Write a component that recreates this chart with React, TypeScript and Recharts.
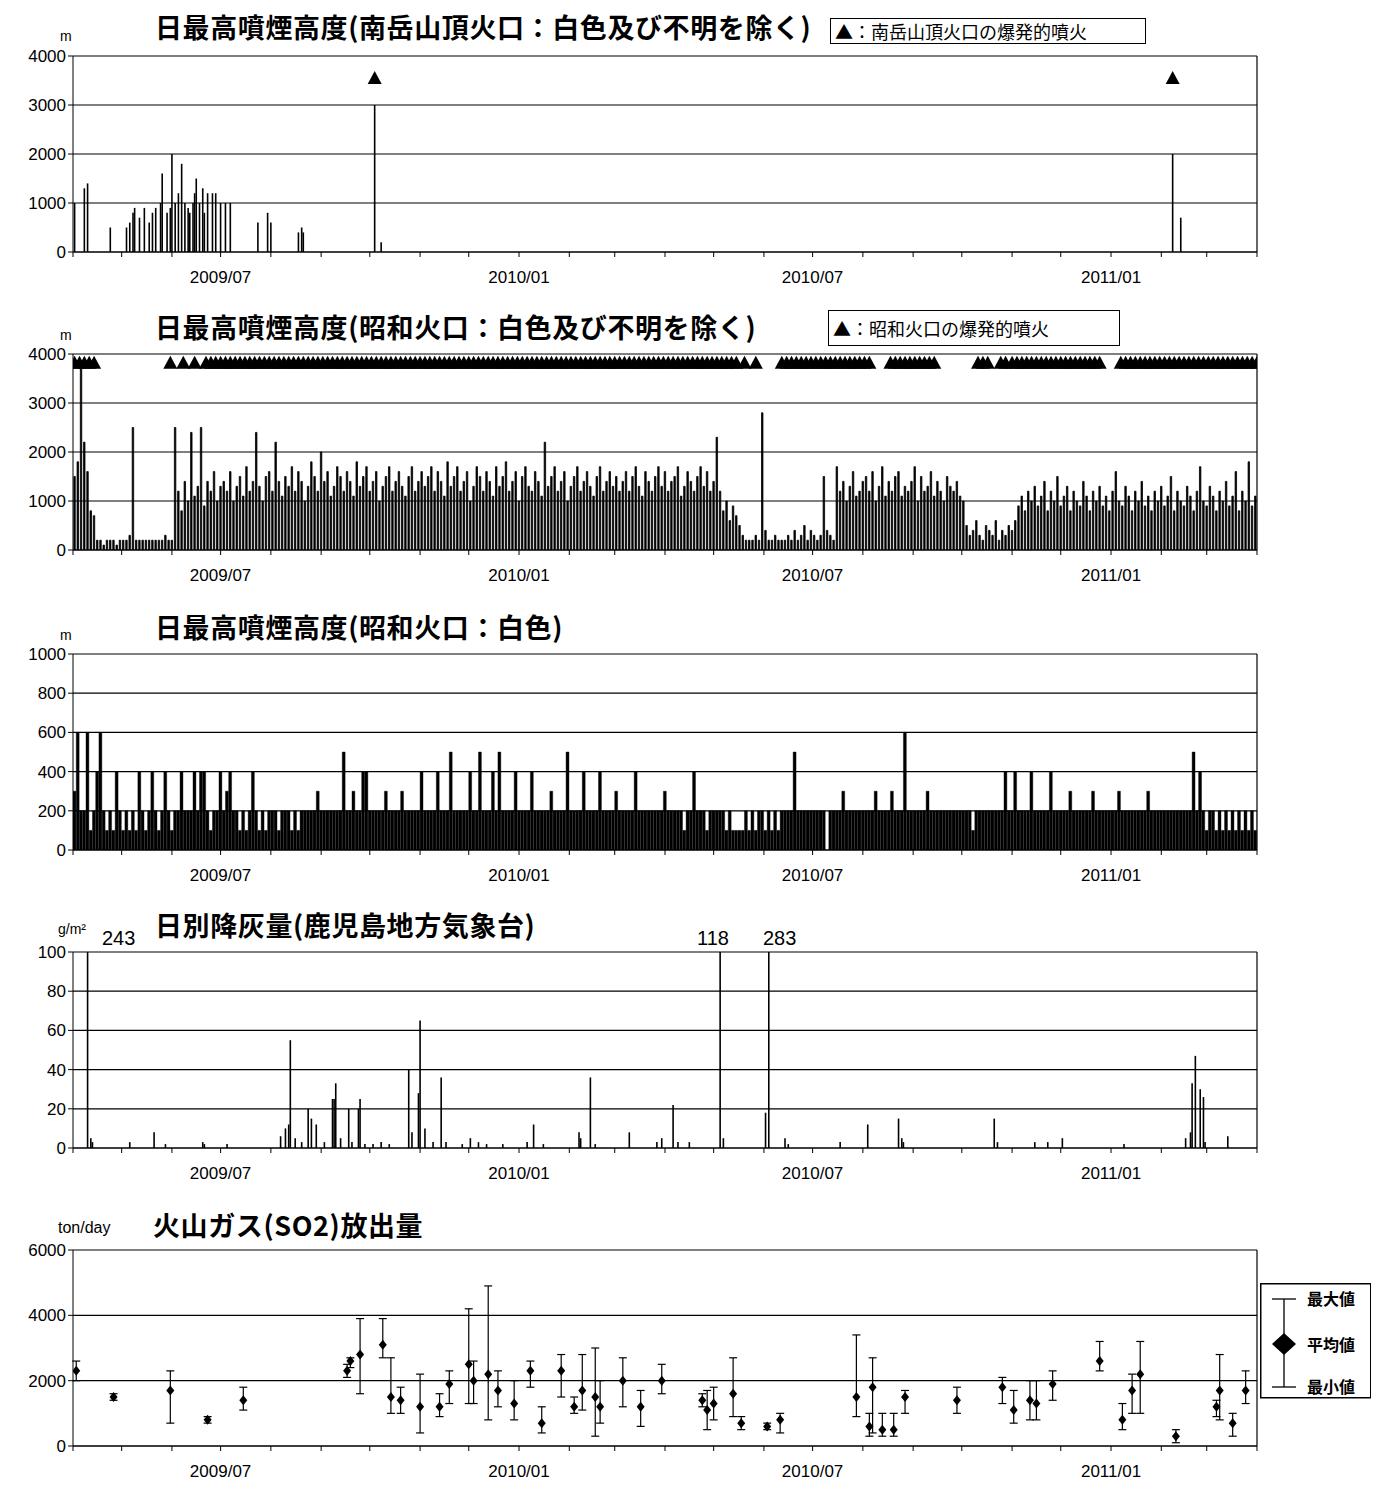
import React from "react";
import {
  Bar,
  CartesianGrid,
  ComposedChart,
  ErrorBar,
  ReferenceLine,
  Scatter,
  XAxis,
  YAxis,
} from "recharts";

// day index 0 = 2009/04/01, 730 = 2011/04/01
const TOTAL_DAYS = 730;
const tickLabels: Record<number, string> = { 3: "2009/07", 9: "2010/01", 15: "2010/07", 21: "2011/01" };

// 南岳 daily max height (day, m)
const minamidakeDays = [1, 7, 9, 23, 33, 35, 37, 38, 41, 44, 47, 49, 51, 54, 55, 58, 60, 61, 63, 65, 67, 69, 71, 72, 74, 75, 76, 78, 80, 81, 83, 86, 88, 91, 94, 97, 114, 120, 122, 139, 141, 142, 186, 190, 678, 683];
const minamidakeHeights = [1000, 1300, 1400, 500, 500, 600, 800, 900, 700, 900, 600, 800, 900, 1000, 1600, 800, 900, 2000, 1000, 1200, 1800, 1000, 900, 800, 1000, 1200, 1500, 1000, 1300, 800, 1200, 1200, 1200, 1000, 1000, 1000, 600, 800, 600, 400, 500, 400, 3000, 200, 2000, 700];
const minamidakeExplosions = [186, 678];

// 昭和 (coloured) max height per 2-day bin, in 100 m
const showaHeights = [
  15, 18, 37, 22, 16, 8, 7, 2, 2,
  1, 2, 2, 2, 1, 2, 2, 2, 3, 25, 2, 2, 2, 2, 2, 2, 2, 2, 2, 3, 2, 2,
  25, 12, 8, 14, 10, 24, 11, 13, 25, 9, 14, 12, 16, 10, 13,
  14, 12, 16, 10, 13, 15, 11, 17, 12, 14, 24, 13, 10, 15, 16, 12, 22, 14, 11, 15, 13, 17, 12, 16, 14, 10, 13, 18, 15, 12, 20, 14, 16, 11, 13, 17, 15, 12, 16, 14, 11, 18, 13, 15, 17, 12, 14, 16, 10, 13, 15, 17, 12, 14, 16, 13, 11, 15, 17, 12, 14, 16,
  13, 15, 17, 12, 16, 14, 11, 18, 13, 15, 17, 12, 14, 16, 10, 13, 17, 15, 12, 16, 14, 11, 17, 13, 15, 18, 12, 14, 16, 10, 15, 17, 13, 12, 16, 14, 11, 22, 13, 15, 17, 12, 14, 16, 10, 13, 15, 17, 12, 14, 16, 13, 11, 15, 17, 12, 14, 16, 13, 15, 12,
  14, 16, 12, 15, 17, 13, 11, 16, 14, 12, 15, 17, 13, 16, 12, 14, 15, 17, 11, 13, 16, 14, 12, 15, 17, 13, 16, 12, 14, 23, 12,
  8, 10, 6, 9, 7, 5, 3, 2, 2, 2, 3, 2, 28, 4, 2, 2, 3, 2, 2,
  2, 3, 2, 4, 2, 3, 5, 2, 4, 3, 2, 3, 15, 4, 3, 2, 17, 12, 14, 10, 13, 16, 11, 12, 14,
  15, 12, 16, 10, 13, 17, 11, 14, 12, 15, 16, 11, 13, 12, 14, 17, 10, 15, 12, 13, 16, 11, 14, 12, 10, 15, 13, 12, 14, 11, 10,
  5, 3, 4, 6, 3, 2, 5, 4, 3, 6, 2, 4, 3, 5, 4, 6,
  9, 11, 8, 12, 10, 13, 9, 11, 14, 8, 12, 10, 15, 9, 11, 13, 8, 12, 10, 9, 14, 11, 8, 12, 10, 13, 9, 11, 8, 12, 16, 10, 9, 13, 11, 8, 12, 10, 14, 9, 11, 8, 12, 10, 13, 9, 11, 15, 8, 12, 10, 9, 13, 11, 8, 12, 17, 10, 9, 13, 11, 8, 12, 10, 14, 9, 11, 16, 8, 12, 10, 18, 9, 11,
];
// explosive eruption periods at 昭和 (start day, end day)
const showaExplosionRanges = [
  [0, 12], [59, 59], [67, 67], [74, 74], [81, 410], [413, 413], [420, 420], [436, 490], [503, 530], [557, 563], [571, 575], [578, 633], [645, 730],
];

// 昭和 white plume max height per 2-day bin, in 100 m
const showaWhite =
  "3622612462121421212142124212421224222424421224234221212421212221222121" +
  "2222232222222522322442222232222322222422224222522222422522242522224222" +
  "2422222322225222242222422223222224222222223222221224222122222121111212" +
  "1221212122225222222222022223222222222322223222622222232222222222222122" +
  "2222222422422224222224222223222222322222223222222223222222222222252421" +
  "2212121212121212";

// daily ash fall (day, g/m2)
const ashDays = [9, 11, 12, 35, 50, 57, 80, 81, 95, 128, 131, 133, 134, 137, 141, 145, 147, 150, 155, 160, 161, 162, 165, 170, 172, 176, 177, 180, 185, 190, 195, 207, 209, 213, 214, 217, 222, 227, 230, 240, 245, 250, 255, 265, 280, 284, 290, 312, 313, 319, 322, 343, 360, 363, 370, 373, 380, 399, 401, 427, 429, 439, 441, 473, 490, 509, 511, 512, 568, 570, 593, 601, 610, 648, 686, 689, 690, 692, 695, 697, 698, 712];
const ashValues = [100, 5, 3, 3, 8, 2, 3, 2, 2, 6, 10, 12, 55, 5, 3, 20, 15, 12, 3, 25, 25, 33, 5, 20, 3, 20, 25, 2, 2, 3, 2, 40, 8, 28, 65, 10, 3, 36, 3, 2, 5, 3, 2, 2, 3, 12, 2, 8, 5, 36, 2, 8, 3, 5, 22, 3, 3, 100, 5, 18, 100, 5, 2, 3, 12, 15, 5, 3, 15, 3, 3, 3, 5, 2, 5, 8, 33, 47, 30, 26, 3, 6];

// SO2 emission (day, mean, min, max) ton/day
const so2Days = [2, 25, 60, 83, 105, 169, 171, 177, 191, 196, 202, 214, 226, 232, 244, 247, 256, 262, 272, 282, 289, 301, 309, 314, 322, 325, 339, 350, 363, 388, 391, 395, 407, 412, 428, 436, 483, 491, 493, 499, 506, 513, 545, 573, 580, 590, 594, 604, 633, 647, 653, 658, 680, 705, 707, 715, 723];
const so2Mean = [2300, 1500, 1700, 800, 1400, 2300, 2600, 2800, 3100, 1500, 1400, 1200, 1200, 1900, 2500, 2000, 2200, 1700, 1300, 2300, 700, 2300, 1200, 1700, 1500, 1200, 2000, 1200, 2000, 1400, 1100, 1300, 1600, 700, 600, 800, 1500, 600, 1800, 500, 500, 1500, 1400, 1800, 1100, 1400, 1300, 1900, 2600, 800, 1700, 2200, 300, 1200, 1700, 700, 1700];
const so2Min = [2000, 1400, 700, 700, 1100, 2100, 2400, 1600, 2700, 1000, 1000, 400, 900, 1300, 1300, 1300, 800, 1200, 800, 1800, 400, 1500, 1000, 1100, 300, 700, 1200, 600, 1600, 1200, 500, 800, 900, 500, 500, 400, 900, 300, 400, 300, 300, 1000, 1000, 1300, 700, 800, 800, 1400, 2300, 500, 1000, 1000, 100, 900, 800, 300, 1300];
const so2Max = [2600, 1600, 2300, 900, 1800, 2500, 2700, 3900, 3900, 2700, 1800, 2200, 1600, 2300, 4200, 2600, 4900, 2300, 2000, 2600, 1200, 2800, 1500, 2800, 3000, 2000, 2700, 1700, 2500, 1600, 1700, 1800, 2700, 900, 700, 1000, 3400, 1000, 2700, 1000, 1000, 1700, 1800, 2100, 1700, 2000, 2000, 2300, 3200, 1300, 2200, 3200, 500, 1400, 2800, 1000, 2300];

const monthTicks: number[] = [];
for (let m = 0; m <= 24; m++) {
  monthTicks.push(Math.round((Date.UTC(2009, 3 + m, 1) - Date.UTC(2009, 3, 1)) / 86400000));
}

const FONT = "'Liberation Sans', Arial, sans-serif";
const JP = "'Noto Sans CJK JP', sans-serif";
const W = 1379;
const H = 260;
const PLOT_TOP = 10;
const PLOT_H = 196;

const axisTick = { fontSize: 17, fill: "#000", fontFamily: FONT };

function Panel(props: {
  top: number;
  yMax: number;
  ticks: number[];
  data: any[];
  children?: React.ReactNode;
}) {
  return (
    <div style={{ position: "absolute", left: 0, top: props.top - PLOT_TOP }}>
      <ComposedChart
        width={W}
        height={H}
        data={props.data}
        margin={{ top: PLOT_TOP, left: 13, right: W - 1257, bottom: H - PLOT_TOP - PLOT_H - 40 }}
      >
        <CartesianGrid vertical={false} stroke="#000" strokeWidth={1.2} />
        <XAxis
          type="number"
          dataKey="d"
          domain={[0, TOTAL_DAYS]}
          ticks={monthTicks}
          interval={0}
          allowDataOverflow
          tickFormatter={(v) => tickLabels[monthTicks.indexOf(Number(v))] || ""}
          tick={{ ...axisTick, dy: 12 }}
          tickSize={5}
          stroke="#000"
          height={40}
        />
        <YAxis
          type="number"
          domain={[0, props.yMax]}
          ticks={props.ticks}
          interval={0}
          allowDataOverflow
          tick={axisTick}
          tickSize={5}
          stroke="#000"
          width={60}
        />
        <ReferenceLine x={TOTAL_DAYS} stroke="#000" strokeWidth={1.2} />
        {props.children}
      </ComposedChart>
    </div>
  );
}

const triangle = (p: any) => (
  <path d={`M${p.cx},${p.cy - 7} L${p.cx + 7},${p.cy + 6} L${p.cx - 7},${p.cy + 6} Z`} fill="#000" />
);
const diamond = (p: any) => (
  <path d={`M${p.cx},${p.cy - 5} L${p.cx + 4},${p.cy} L${p.cx},${p.cy + 5} L${p.cx - 4},${p.cy} Z`} fill="#000" />
);

const titleStyle: React.CSSProperties = { position: "absolute", fontFamily: JP, fontWeight: 700, fontSize: 27, letterSpacing: 0.6, whiteSpace: "nowrap", lineHeight: 1 };
const unitStyle: React.CSSProperties = { position: "absolute", fontFamily: FONT, fontSize: 14, whiteSpace: "nowrap", lineHeight: 1 };
const numStyle: React.CSSProperties = { position: "absolute", fontFamily: FONT, fontSize: 20, whiteSpace: "nowrap", lineHeight: 1 };
const boxStyle: React.CSSProperties = { position: "absolute", border: "1.5px solid #000", fontFamily: JP, fontSize: 18, whiteSpace: "nowrap", boxSizing: "border-box", background: "#fff", padding: "0 4px", display: "flex", alignItems: "center" };

export default function App() {
  const p1 = minamidakeDays.map((d, i) => ({ d, v: minamidakeHeights[i] }));
  const p1Tri = minamidakeExplosions.map((d) => ({ d, v: 3550 }));
  const p2 = showaHeights.map((v, i) => ({ d: i * 2 + 1, v: v * 100 }));
  const p2Tri: { d: number; v: number }[] = [];
  showaExplosionRanges.forEach(([s, e]) => {
    for (let d = s; d <= e; d += 3) p2Tri.push({ d: d + 1, v: 3820 });
  });
  const p3 = showaWhite.split("").map((c, i) => ({ d: i * 2 + 1, v: Number(c) * 100 }));
  const p4 = ashDays.map((d, i) => ({ d, v: ashValues[i] }));
  const p5 = so2Days.map((d, i) => ({ d, v: so2Mean[i], err: [so2Mean[i] - so2Min[i], so2Max[i] - so2Mean[i]] }));

  return (
    <div style={{ position: "relative", left: -8, top: -8, width: W, height: 1490, background: "#fff" }}>
      <Panel top={56} yMax={4000} ticks={[0, 1000, 2000, 3000, 4000]} data={p1}>
        <Bar dataKey="v" fill="#000" barSize={1.6} isAnimationActive={false} />
        <Scatter data={p1Tri} dataKey="v" shape={triangle} isAnimationActive={false} />
      </Panel>
      <Panel top={354} yMax={4000} ticks={[0, 1000, 2000, 3000, 4000]} data={p2}>
        <Bar dataKey="v" fill="#000" stroke="#000" strokeWidth={0.8} barSize={3.3} isAnimationActive={false} />
        <Scatter data={p2Tri} dataKey="v" shape={triangle} isAnimationActive={false} />
      </Panel>
      <Panel top={654} yMax={1000} ticks={[0, 200, 400, 600, 800, 1000]} data={p3}>
        <Bar dataKey="v" fill="#000" stroke="#000" strokeWidth={0.4} barSize={2.9} isAnimationActive={false} />
      </Panel>
      <Panel top={952} yMax={100} ticks={[0, 20, 40, 60, 80, 100]} data={p4}>
        <Bar dataKey="v" fill="#000" barSize={1.6} isAnimationActive={false} />
      </Panel>
      <Panel top={1250} yMax={6000} ticks={[0, 2000, 4000, 6000]} data={[]}>
        <Scatter data={p5} dataKey="v" shape={diamond} isAnimationActive={false}>
          <ErrorBar dataKey="err" direction="y" width={4} stroke="#000" strokeWidth={1.2} />
        </Scatter>
      </Panel>

      <div style={{ ...titleStyle, left: 155, top: 13 }}>日最高噴煙高度(南岳山頂火口：白色及び不明を除く)</div>
      <div style={{ ...unitStyle, left: 60, top: 29 }}>m</div>
      <div style={{ ...boxStyle, left: 830, top: 18, width: 316, height: 26 }}>▲：南岳山頂火口の爆発的噴火</div>

      <div style={{ ...titleStyle, left: 155, top: 313 }}>日最高噴煙高度(昭和火口：白色及び不明を除く)</div>
      <div style={{ ...unitStyle, left: 60, top: 328 }}>m</div>
      <div style={{ ...boxStyle, left: 828, top: 310, width: 292, height: 36 }}>▲：昭和火口の爆発的噴火</div>

      <div style={{ ...titleStyle, left: 155, top: 613 }}>日最高噴煙高度(昭和火口：白色)</div>
      <div style={{ ...unitStyle, left: 60, top: 628 }}>m</div>

      <div style={{ ...titleStyle, left: 155, top: 911 }}>日別降灰量(鹿児島地方気象台)</div>
      <div style={{ ...unitStyle, left: 58, top: 922 }}>g/m²</div>
      <div style={{ ...numStyle, left: 102, top: 928 }}>243</div>
      <div style={{ ...numStyle, left: 697, top: 928 }}>118</div>
      <div style={{ ...numStyle, left: 763, top: 928 }}>283</div>

      <div style={{ ...titleStyle, left: 153, top: 1211 }}>火山ガス(SO2)放出量</div>
      <div style={{ ...unitStyle, left: 58, top: 1220, fontSize: 16 }}>ton/day</div>

      <svg style={{ position: "absolute", left: 1260, top: 1283 }} width={112} height={116}>
        <rect x={0.75} y={0.75} width={110} height={114} fill="#fff" stroke="#000" strokeWidth={1.5} />
        <line x1={24} y1={16} x2={24} y2={104} stroke="#000" strokeWidth={1.3} />
        <line x1={12} y1={16} x2={36} y2={16} stroke="#000" strokeWidth={1.3} />
        <line x1={12} y1={104} x2={36} y2={104} stroke="#000" strokeWidth={1.3} />
        <path d="M24,50 L36,61 L24,72 L12,61 Z" fill="#000" />
        <text x={47} y={22} fontFamily={JP} fontSize={16} fontWeight={700}>最大値</text>
        <text x={47} y={68} fontFamily={JP} fontSize={16} fontWeight={700}>平均値</text>
        <text x={47} y={110} fontFamily={JP} fontSize={16} fontWeight={700}>最小値</text>
      </svg>
    </div>
  );
}
